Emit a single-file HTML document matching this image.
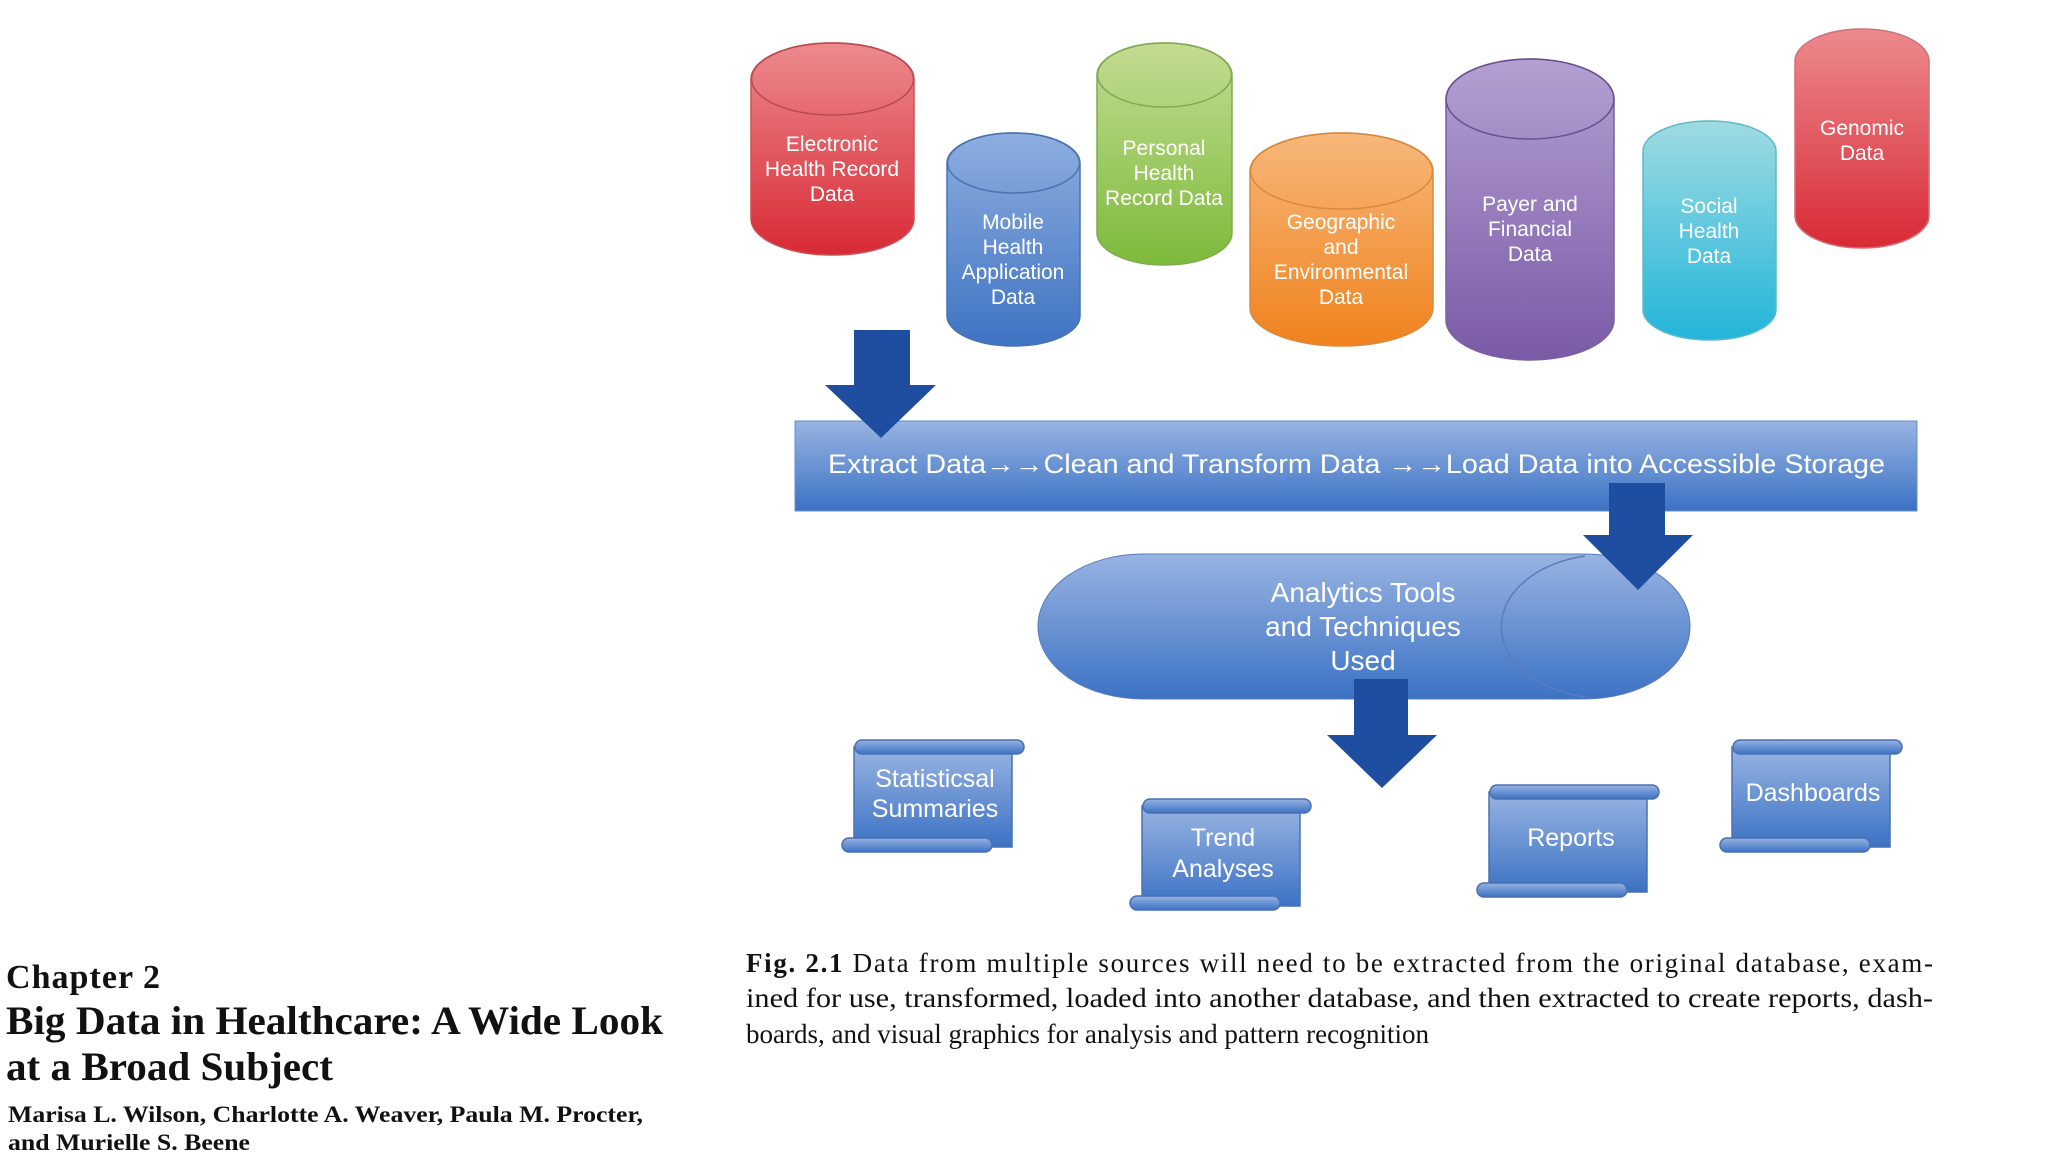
<!DOCTYPE html>
<html><head><meta charset="utf-8"><style>
html,body{margin:0;padding:0;background:#fff;width:2048px;height:1152px;overflow:hidden}
svg{display:block}
.c{font-family:"Liberation Sans",sans-serif;fill:#fff;text-anchor:middle}
.s{font-family:"Liberation Serif",serif;fill:#111}
</style></head><body>
<svg width="2048" height="1152" viewBox="0 0 2048 1152" xmlns="http://www.w3.org/2000/svg">
<defs>
<linearGradient id="red" x1="0" y1="0" x2="0" y2="1"><stop offset="0" stop-color="#ec8a8e"/><stop offset="1" stop-color="#d82a35"/></linearGradient>
<linearGradient id="blue" x1="0" y1="0" x2="0" y2="1"><stop offset="0" stop-color="#8eaee0"/><stop offset="1" stop-color="#3e73c2"/></linearGradient>
<linearGradient id="green" x1="0" y1="0" x2="0" y2="1"><stop offset="0" stop-color="#c3dc92"/><stop offset="1" stop-color="#7dba3b"/></linearGradient>
<linearGradient id="orange" x1="0" y1="0" x2="0" y2="1"><stop offset="0" stop-color="#f7b87a"/><stop offset="1" stop-color="#f0821e"/></linearGradient>
<linearGradient id="purple" x1="0" y1="0" x2="0" y2="1"><stop offset="0" stop-color="#b4a0d2"/><stop offset="1" stop-color="#7a5aa6"/></linearGradient>
<linearGradient id="cyan" x1="0" y1="0" x2="0" y2="1"><stop offset="0" stop-color="#9fdbe2"/><stop offset="1" stop-color="#22b5da"/></linearGradient>
<linearGradient id="bar" x1="0" y1="0" x2="0" y2="1"><stop offset="0" stop-color="#98b4e2"/><stop offset="1" stop-color="#3c72c4"/></linearGradient>
</defs>

<g stroke-width="1.5">
<rect x="751" y="43" width="163" height="212" rx="81" ry="36" fill="url(#red)" stroke="#c85058"/>
<ellipse cx="832.5" cy="79" rx="81" ry="36" fill="none" stroke="#b84a50"/>
<rect x="947" y="133" width="133" height="213" rx="66" ry="30" fill="url(#blue)" stroke="#4a72b0"/>
<ellipse cx="1013.5" cy="163" rx="66" ry="30" fill="none" stroke="#4a72b0"/>
<rect x="1097" y="43" width="135" height="222" rx="67" ry="32" fill="url(#green)" stroke="#80aa50"/>
<ellipse cx="1164.5" cy="75" rx="67" ry="32" fill="none" stroke="#80aa50"/>
<rect x="1250" y="133" width="183" height="213" rx="91" ry="38" fill="url(#orange)" stroke="#d88a40"/>
<ellipse cx="1341.5" cy="171" rx="91" ry="38" fill="none" stroke="#d88a40"/>
<rect x="1446" y="59" width="168" height="301" rx="84" ry="40" fill="url(#purple)" stroke="#7a60a0"/>
<ellipse cx="1530" cy="99" rx="84" ry="40" fill="none" stroke="#6a5090"/>
<rect x="1643" y="121" width="133" height="219" rx="66" ry="30" fill="url(#cyan)" stroke="#60b8c8"/>
<rect x="1795" y="29" width="134" height="219" rx="67" ry="32" fill="url(#red)" stroke="#d07078"/>
</g>
<g class="c" font-size="21">
<text x="832" y="151">Electronic</text><text x="832" y="176">Health Record</text><text x="832" y="201">Data</text>
<text x="1013" y="229">Mobile</text><text x="1013" y="254">Health</text><text x="1013" y="279">Application</text><text x="1013" y="304">Data</text>
<text x="1164" y="155">Personal</text><text x="1164" y="180">Health</text><text x="1164" y="205">Record Data</text>
<text x="1341" y="229">Geographic</text><text x="1341" y="254">and</text><text x="1341" y="279">Environmental</text><text x="1341" y="304">Data</text>
<text x="1530" y="211">Payer and</text><text x="1530" y="236">Financial</text><text x="1530" y="261">Data</text>
<text x="1709" y="213">Social</text><text x="1709" y="238">Health</text><text x="1709" y="263">Data</text>
<text x="1862" y="135">Genomic</text><text x="1862" y="160">Data</text>
</g>

<rect x="795" y="421" width="1122" height="90" fill="url(#bar)" stroke="#6a8ccc"/>
<text class="c" x="828" y="473" font-size="27" text-anchor="start" style="text-anchor:start" textLength="1057" lengthAdjust="spacingAndGlyphs">Extract Data→→Clean and Transform Data →→Load Data into Accessible Storage</text>

<polygon points="854,330 910,330 910,385 936,385 881,438 825,385 854,385" fill="#1f4ea1"/>

<rect x="1038" y="554" width="652" height="145" rx="105" ry="72" fill="url(#bar)" stroke="#5a7cbc"/>
<path d="M1585,556 A105,72 0 0 0 1585,697" fill="none" stroke="#5a7cbc" stroke-width="1.5"/>
<g class="c" font-size="28"><text x="1363" y="602">Analytics Tools</text><text x="1363" y="636">and Techniques</text><text x="1363" y="670">Used</text></g>

<polygon points="1609,483 1665,483 1665,535 1693,535 1638,590 1583,535 1609,535" fill="#1f4ea1"/>
<polygon points="1354,679 1408,679 1408,735 1437,735 1382,788 1327,735 1354,735" fill="#1f4ea1"/>

<g fill="url(#bar)" stroke="#4a70b0" stroke-width="1.5">
<rect x="854" y="747" width="158" height="100"/><rect x="855" y="740" width="169" height="14" rx="7"/><rect x="842" y="838" width="150" height="14" rx="7"/>
<rect x="1142" y="806" width="158" height="100"/><rect x="1143" y="799" width="168" height="14" rx="7"/><rect x="1130" y="896" width="150" height="14" rx="7"/>
<rect x="1489" y="792" width="158" height="100"/><rect x="1490" y="785" width="169" height="14" rx="7"/><rect x="1477" y="883" width="150" height="14" rx="7"/>
<rect x="1732" y="747" width="158" height="100"/><rect x="1733" y="740" width="169" height="14" rx="7"/><rect x="1720" y="838" width="150" height="14" rx="7"/>
</g>
<g class="c" font-size="25">
<text x="935" y="787">Statisticsal</text><text x="935" y="817">Summaries</text>
<text x="1223" y="846">Trend</text><text x="1223" y="877">Analyses</text>
<text x="1571" y="846">Reports</text>
<text x="1813" y="801">Dashboards</text>
</g>

<g class="s" font-size="27">
<text x="746" y="972" textLength="1187" lengthAdjust="spacing"><tspan font-weight="bold">Fig. 2.1</tspan>  Data from multiple sources will need to be extracted from the original database, exam-</text>
<text x="746" y="1007" textLength="1187" lengthAdjust="spacingAndGlyphs">ined for use, transformed, loaded into another database, and then extracted to create reports, dash-</text>
<text x="746" y="1043">boards, and visual graphics for analysis and pattern recognition</text>
</g>
<g class="s" font-weight="bold">
<text x="6" y="988" font-size="34" textLength="154">Chapter 2</text>
<text x="6" y="1034" font-size="40" textLength="657" lengthAdjust="spacingAndGlyphs">Big Data in Healthcare: A Wide Look</text>
<text x="6" y="1080" font-size="40" textLength="327" lengthAdjust="spacingAndGlyphs">at a Broad Subject</text>
<text x="8" y="1122" font-size="23" textLength="635" lengthAdjust="spacingAndGlyphs">Marisa L. Wilson, Charlotte A. Weaver, Paula M. Procter,</text>
<text x="8" y="1150" font-size="23" textLength="242" lengthAdjust="spacingAndGlyphs">and Murielle S. Beene</text>
</g>
</svg>
</body></html>
